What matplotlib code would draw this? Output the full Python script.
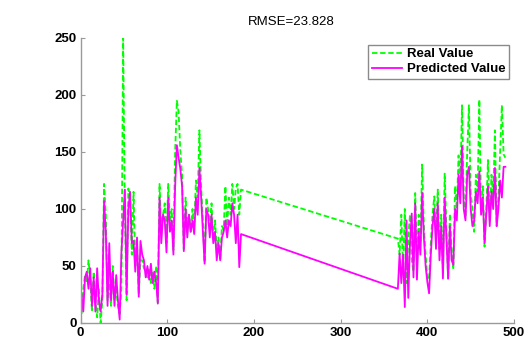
import numpy as np
import matplotlib
matplotlib.use("Agg")
import matplotlib.pyplot as plt

plt.rcParams['font.family'] = ['Liberation Sans', 'DejaVu Sans']

# Sample indices: first block 1..185, second block 366..490 (step 2)
real_block1 = [
    8, 30, 42, 35, 55, 40, 10, 45, 20, 5,
    30, 0, 20, 122, 95, 20, 35, 15, 50, 20,
    30, 15, 8, 30, 250, 100, 20, 118, 110, 60,
    115, 50, 72, 25, 55, 55, 48, 45, 40, 48,
    35, 45, 30, 50, 18, 122, 80, 95, 105, 70,
    122, 90, 100, 64, 150, 195, 185, 150, 130, 65,
    110, 85, 95, 80, 100, 85, 125, 110, 169, 120,
    90, 53, 110, 100, 85, 105, 73, 90, 65, 75,
    55, 85, 82, 120, 85, 110, 95, 122, 100, 118,
    122, 95, 117,
]
pred_block1 = [
    25, 10, 40, 45, 30, 48, 15, 40, 10, 48,
    20, 10, 25, 107, 80, 15, 70, 20, 45, 15,
    42, 20, 3, 62, 90, 117, 25, 100, 115, 70,
    72, 45, 75, 23, 72, 60, 55, 40, 50, 38,
    52, 35, 45, 36, 17, 110, 70, 95, 90, 62,
    110, 80, 90, 60, 120, 156, 145, 135, 120, 63,
    100, 75, 95, 80, 90, 78, 110, 95, 136, 110,
    80, 52, 100, 95, 75, 95, 70, 80, 55, 70,
    55, 75, 80, 90, 75, 90, 85, 105, 95, 70,
    95, 49, 78,
]
real_block2 = [
    74, 60, 95, 45, 100, 35, 75, 95, 55, 45,
    114, 55, 95, 70, 139, 85, 60, 40, 38, 70,
    95, 111, 75, 117, 65, 95, 45, 131, 85, 38,
    96, 65, 47, 120, 100, 147, 120, 191, 110, 93,
    150, 191, 115, 100, 80, 130, 115, 196, 100, 120,
    67, 100, 143, 90, 130, 110, 169, 85, 110, 150,
    191, 148, 145,
]
pred_block2 = [
    30, 61, 35, 60, 14, 90, 22, 70, 96, 40,
    105, 38, 80, 60, 114, 75, 50, 36, 26, 60,
    85, 100, 65, 105, 55, 85, 39, 110, 75, 39,
    85, 55, 51, 100, 90, 130, 105, 155, 100, 90,
    130, 137, 100, 85, 90, 115, 105, 133, 95, 110,
    70, 95, 120, 85, 115, 100, 136, 85, 100, 125,
    110, 137, 137,
]
block1_start, block2_start, step = 1, 366, 2

x_ticks = [0, 100, 200, 300, 400, 500]
y_ticks = [0, 50, 100, 150, 200, 250]
title_text = "RMSE=23.828"
labels = ["Real Value", "Predicted Value"]

x = np.concatenate([block1_start + step * np.arange(len(real_block1)),
                    block2_start + step * np.arange(len(real_block2))])
real = np.array(real_block1 + real_block2, dtype=float)
pred = np.array(pred_block1 + pred_block2, dtype=float)

fig = plt.figure(figsize=(5.28, 3.38), dpi=100)
ax = fig.add_axes([0.1528, 0.0444, 0.8207, 0.8432])

ax.plot(x, real, color='#00ff00', linestyle=(0, (3, 1.5)), linewidth=1.3, label=labels[0])
ax.plot(x, pred, color='#ff00ff', linestyle='-', linewidth=1.3, label=labels[1])

ax.set_xlim(0, 500)
ax.set_ylim(0, 250)
ax.set_xticks(x_ticks)
ax.set_yticks(y_ticks)
ax.set_xticklabels([str(v) for v in x_ticks])
ax.set_yticklabels([str(v) for v in y_ticks])

for side in ('top', 'right'):
    ax.spines[side].set_visible(False)
for side in ('left', 'bottom'):
    ax.spines[side].set_color('#9a9a9a')
    ax.spines[side].set_linewidth(1.0)

ax.tick_params(direction='in', length=3, width=0.8, color='#9a9a9a',
               labelsize=9.5, labelcolor='black', pad=3)
for lab in ax.get_xticklabels() + ax.get_yticklabels():
    lab.set_fontweight('bold')

ax.set_title(title_text, fontsize=9.5, pad=9, x=0.485)

leg = ax.legend(loc='upper right', bbox_to_anchor=(0.9965, 0.99), frameon=True,
                fancybox=False, edgecolor='#8a8a8a', framealpha=1,
                prop={'weight': 'bold', 'size': 9.5}, handlelength=2.3,
                handletextpad=0.35, borderpad=0.25, labelspacing=0.2,
                borderaxespad=0.3)
leg.get_frame().set_linewidth(1.0)

fig.savefig('out.png', dpi=100)
